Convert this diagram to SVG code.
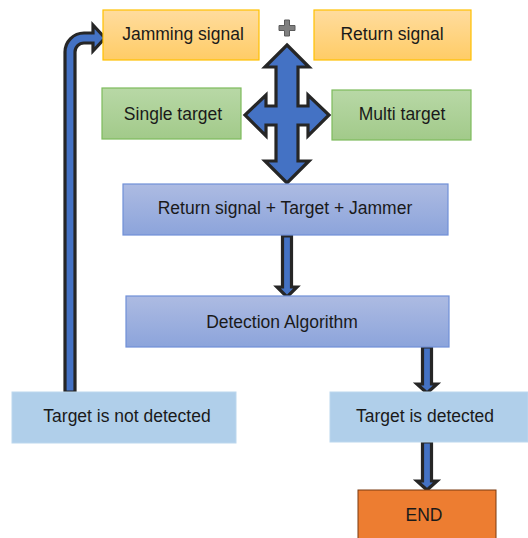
<svg xmlns="http://www.w3.org/2000/svg" width="528" height="538" viewBox="0 0 528 538">
  <defs>
    <linearGradient id="gOrange" x1="0" y1="0" x2="0" y2="1">
      <stop offset="0" stop-color="#FFDC9E"/>
      <stop offset="1" stop-color="#FFCC66"/>
    </linearGradient>
    <linearGradient id="gGreen" x1="0" y1="0" x2="0" y2="1">
      <stop offset="0" stop-color="#B8D8A6"/>
      <stop offset="1" stop-color="#A2CA8A"/>
    </linearGradient>
    <linearGradient id="gBlue" x1="0" y1="0" x2="0" y2="1">
      <stop offset="0" stop-color="#ADBBE2"/>
      <stop offset="1" stop-color="#8CA4DB"/>
    </linearGradient>
    <style>
      text { font-family: "Liberation Sans", Arial, sans-serif; font-size: 17.5px; fill: #1a1a1a; text-anchor: middle; }
      .orange { fill: url(#gOrange); stroke: #FFC000; stroke-width: 1.2; }
      .green { fill: url(#gGreen); stroke: #7DBB5C; stroke-width: 1.2; }
      .blue { fill: url(#gBlue); stroke: #7090D8; stroke-width: 1.2; }
      .pale { fill: #B0CFEA; stroke: #BCD7EE; stroke-width: 1; }
      .end { fill: #ED7D31; stroke: #7A3A10; stroke-width: 1; }
      .arrow { fill: #4472C4; stroke: #262626; stroke-width: 3.2; stroke-linejoin: miter; }
      .plus { fill: #808080; stroke: #5a5a5a; stroke-width: 1; }
    </style>
  </defs>

  <g id="connectors">
    <!-- four-way arrow linking the inputs to the combined signal -->
    <path class="arrow" d="M287,45 L309,67 L298,67 L298,106 L308,106 L308,95 L329,115 L308,136 L308,125 L298,125 L298,161 L309,161 L287,183 L265,161 L276,161 L276,125 L266,125 L266,136 L245,115 L266,95 L266,106 L276,106 L276,67 L265,67 Z"/>
    <!-- combined signal to detection -->
    <path class="arrow" d="M282.5,236 L291.5,236 L291.5,287 L297,287 L287,297 L277,287 L282.5,287 Z"/>
    <!-- detection to detected -->
    <path class="arrow" d="M422.5,347 L431.5,347 L431.5,384 L437,384 L427,393 L417,384 L422.5,384 Z"/>
    <!-- detected to end -->
    <path class="arrow" d="M422.5,442 L431.5,442 L431.5,481 L437,481 L427,490 L417,481 L422.5,481 Z"/>
    <!-- loop back when the target is not detected -->
    <path class="arrow" d="M65,392 L65,52 A19,19 0 0 1 84,33 L93,33 L93,25 L105,38 L93,51 L93,43 L84,43 A9,9 0 0 0 75,52 L75,392 Z"/>
  </g>

  <g id="jamming-signal">
    <rect class="orange" x="103" y="10" width="156" height="50"/>
    <text x="183" y="40">Jamming signal</text>
  </g>

  <g id="plus">
    <path class="plus" d="M284.5,20 L289.5,20 L289.5,25.5 L295,25.5 L295,30.5 L289.5,30.5 L289.5,36 L284.5,36 L284.5,30.5 L279,30.5 L279,25.5 L284.5,25.5 Z"/>
  </g>

  <g id="return-signal">
    <rect class="orange" x="314" y="10" width="157" height="50"/>
    <text x="392" y="40">Return signal</text>
  </g>

  <g id="single-target">
    <rect class="green" x="102" y="88" width="139" height="51"/>
    <text x="173" y="120">Single target</text>
  </g>

  <g id="multi-target">
    <rect class="green" x="332" y="90" width="139" height="50"/>
    <text x="402" y="120">Multi target</text>
  </g>

  <g id="combined">
    <rect class="blue" x="123" y="184" width="325" height="51"/>
    <text x="285" y="214">Return signal + Target + Jammer</text>
  </g>

  <g id="detection">
    <rect class="blue" x="126" y="296" width="323" height="51"/>
    <text x="282" y="328">Detection Algorithm</text>
  </g>

  <g id="not-detected">
    <rect class="pale" x="12" y="392" width="224" height="51"/>
    <text x="127" y="422">Target is not detected</text>
  </g>

  <g id="detected">
    <rect class="pale" x="330" y="392" width="198" height="50"/>
    <text x="425" y="422">Target is detected</text>
  </g>

  <g id="end">
    <rect class="end" x="358" y="490" width="138" height="52"/>
    <text x="424" y="521">END</text>
  </g>
</svg>
